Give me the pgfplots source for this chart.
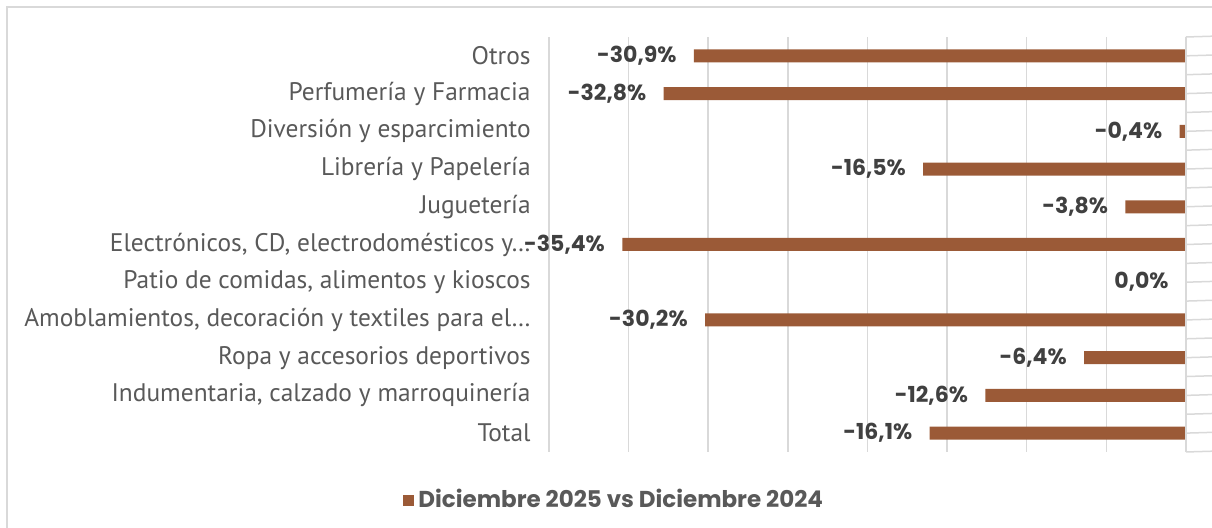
\documentclass[border=0pt]{standalone}
\usepackage{pgfplots}
\pgfplotsset{compat=1.18}
\usepackage{fontspec}
\setmainfont{PT Sans}
\newfontfamily\pop{Poppins}
\definecolor{barc}{RGB}{155,90,55}
\definecolor{gridc}{RGB}{217,217,217}
\definecolor{txt}{RGB}{89,89,89}
\definecolor{lbl}{RGB}{64,64,64}
\begin{document}
\begin{tikzpicture}
\useasboundingbox (0pt,0pt) rectangle (606pt,264pt);
\draw[gridc,line width=1pt] (3.5pt,0pt) -- (3.5pt,260.5pt) -- (606pt,260.5pt);
\begin{axis}[
  at={(274.5pt,38pt)}, anchor=south west,
  width=318.5pt, height=207.5pt, scale only axis,
  xmin=-40, xmax=0, ymin=-0.5, ymax=10.5,
  xbar, bar width=6.5pt,
  axis line style={draw=none},
  xtick={-40,-35,...,-5}, xticklabels={},
  xmajorgrids, grid style={gridc, line width=0.75pt},
  major tick length=0pt,
  ytick={0,...,10},
  yticklabels={Total,{Indumentaria, calzado y marroquinería},Ropa y accesorios deportivos,{Amoblamientos, decoración y textiles para el…},{Patio de comidas, alimentos y kioscos},{Electrónicos, CD, electrodomésticos y…},Juguetería,Librería y Papelería,Diversión y esparcimiento,Perfumería y Farmacia,Otros},
  yticklabel style={font=\fontsize{12.7}{14}\selectfont, text=txt, inner sep=0pt, xshift=-9pt},
  point meta=x,
  nodes near coords={\pgfmathprintnumber[fixed,fixed zerofill,precision=1,use comma,assume math mode=true]{\pgfplotspointmeta}\%},
  every node near coord/.append style={anchor=east, inner sep=0pt, xshift=-8.5pt, font=\pop\bfseries\fontsize{11}{13}\selectfont, text=lbl},
  legend style={at={(axis description cs:0.104,-0.116)}, anchor=center, draw=none, fill=none, font=\pop\bfseries\fontsize{11.5}{13}\selectfont, text=txt, inner sep=0pt},
  legend image code/.code={\fill[barc] (0pt,-2.75pt) rectangle (5.5pt,2.75pt);},
  clip=false,
]
\addplot[fill=barc, draw=none] coordinates {
(-16.1,0) (-12.6,1) (-6.4,2) (-30.2,3) (0.0,4) (-35.4,5) (-3.8,6) (-16.5,7) (-0.4,8) (-32.8,9) (-30.9,10)};
\legend{Diciembre 2025 vs Diciembre 2024}
\draw[gridc, line width=0.75pt] (axis cs:0,-0.5) -- (axis cs:0,10.5);
\pgfplotsinvokeforeach{-0.5,0,...,10.5}{\draw[gridc, line width=0.75pt] (axis cs:0,#1) -- ++(-2.5pt,0);}
\end{axis}
\end{tikzpicture}
\end{document}
